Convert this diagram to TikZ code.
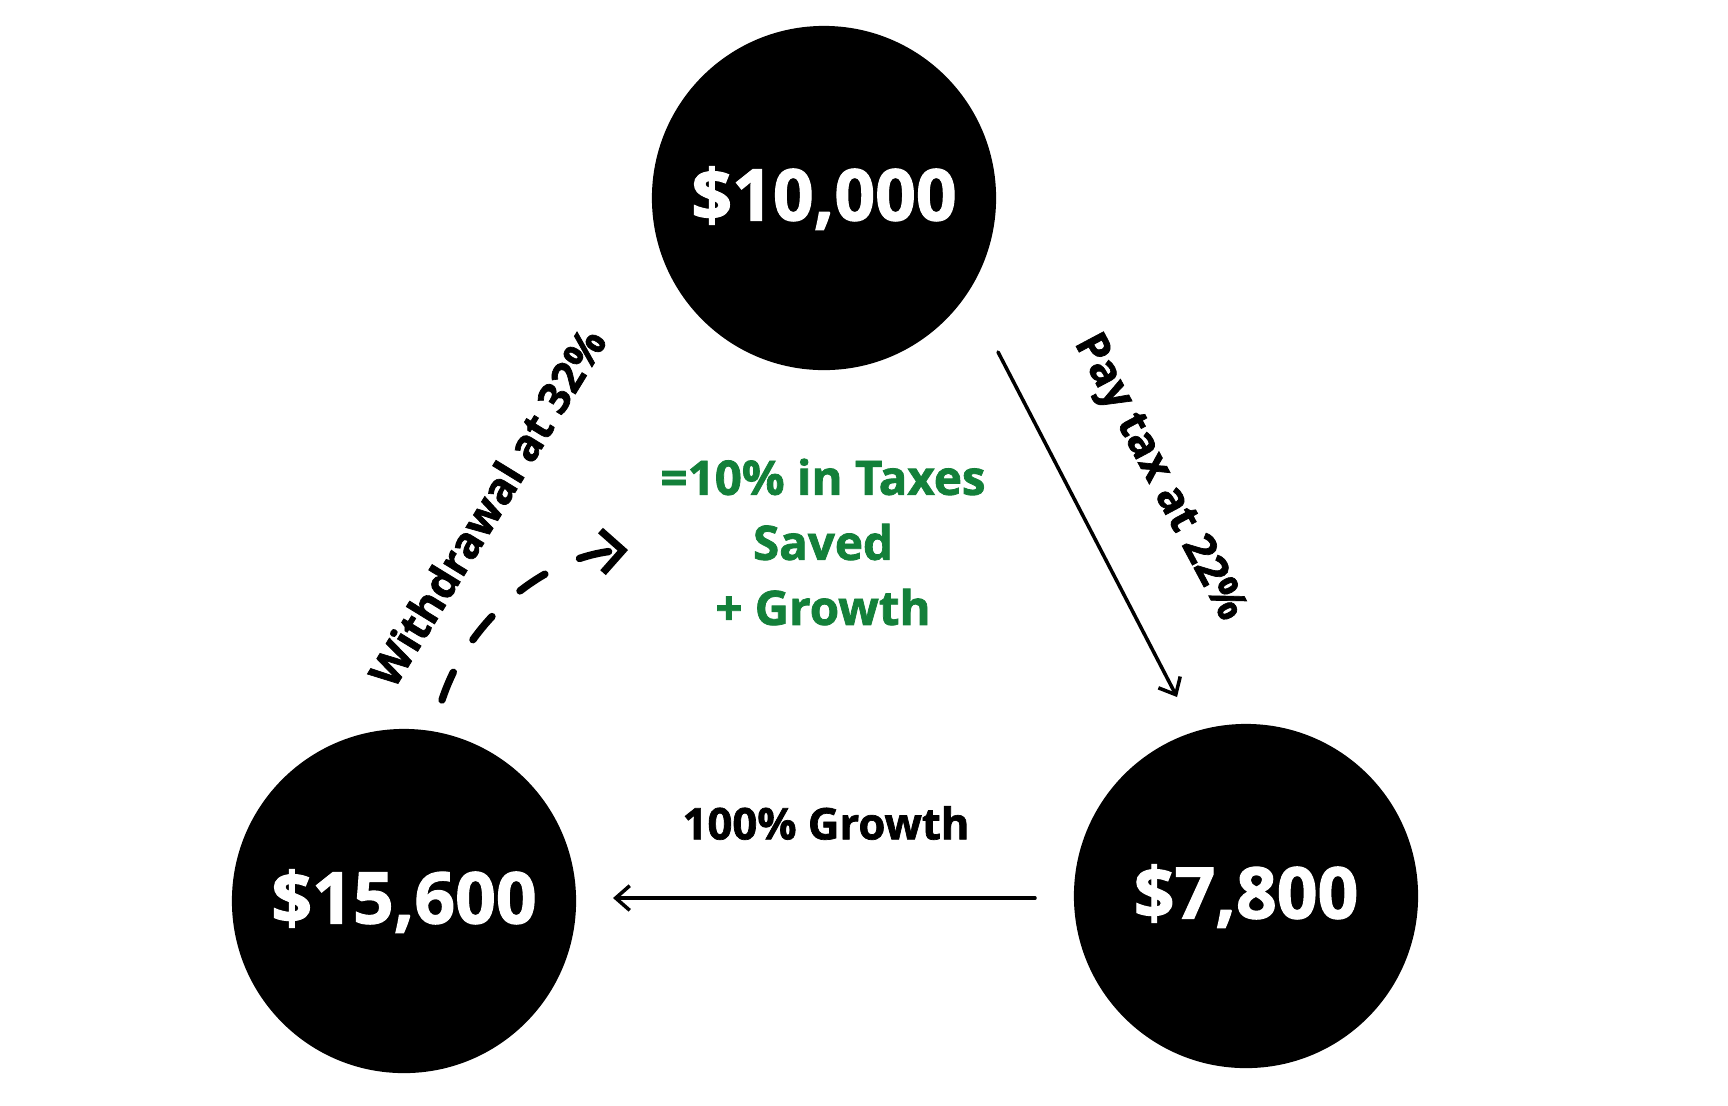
\documentclass[tikz,border=0pt]{standalone}
\usepackage{fontspec}
\setmainfont{Open Sans}[BoldFeatures={FakeBold=1.6}]
\usetikzlibrary{arrows.meta}
\definecolor{savegreen}{RGB}{19,128,58}
\begin{document}
\begin{tikzpicture}[x=0.01cm,y=-0.01cm,
  money/.style={circle,fill=black,minimum size=3.44cm,inner sep=0pt,text=white,font=\fontsize{20.3}{24}\selectfont\bfseries},
  lbl/.style={font=\fontsize{12.4}{14}\selectfont\bfseries,inner sep=0pt},
  flow/.style={line width=1pt,line cap=round,-{Straight Barb[length=4pt,width=7pt,line width=1pt]}},
  dashflow/.style={line width=2.1pt,line cap=round,dash pattern=on 0.3cm off 0.38cm,-{Straight Barb[length=6pt,width=12pt,line width=2.1pt]}}]
\useasboundingbox (0,0) rectangle (1728,1105);
\node[money] (top) at (824,198) {\$10,000};
\node[money] (bl) at (404,901) {\$15,600};
\node[money] (br) at (1246,896) {\$7,800};
\coordinate (p1) at (998,352);
\coordinate (p2) at (1177,697);
\draw[flow] (p1) -- (p2);
\coordinate (h1) at (1035,898);
\coordinate (h2) at (613,898);
\draw[flow] (h1) -- (h2);
\coordinate (d1) at (442,700);
\coordinate (d2) at (628,550);
\draw[dashflow] (d1) .. controls (468,620) and (545,555) .. (d2);
\node[lbl] (growth) at (826,823) {100\% Growth};
\node[lbl,rotate=-62] (paytax) at (1158,478) {Pay tax at 22\%};
\node[lbl,rotate=58.5] (withdraw) at (487,507) {Withdrawal at 32\%};
\node[align=center,text=savegreen,inner sep=0pt,font=\fontsize{13.5}{18.5}\selectfont\bfseries] (saved) at (823,542) {=10\% in Taxes\\Saved\\+ Growth};
\end{tikzpicture}
\end{document}
